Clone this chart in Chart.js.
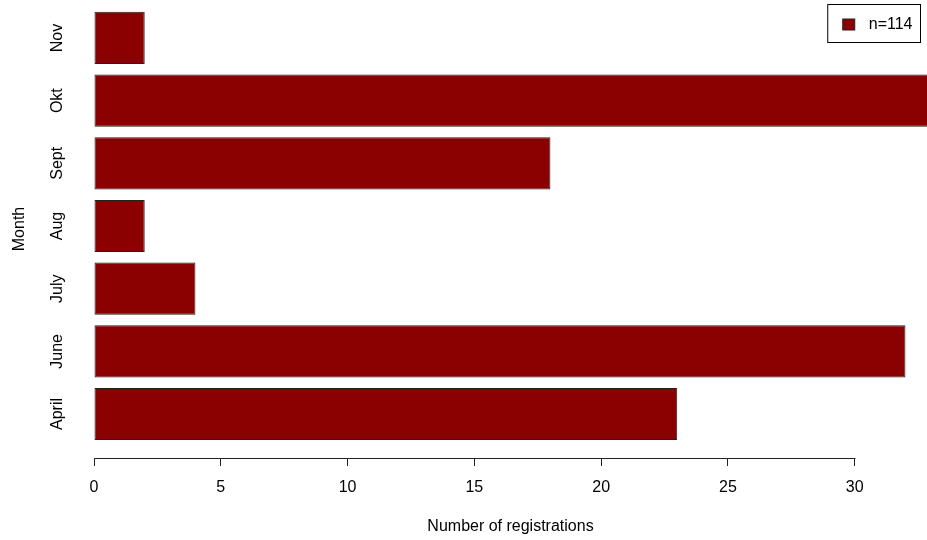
<!DOCTYPE html>
<html><head><meta charset="utf-8">
<script src="https://cdn.jsdelivr.net/npm/chart.js@4.4.1/dist/chart.umd.min.js"></script>
<style>html,body{margin:0;padding:0;background:#fff;}</style>
</head><body>
<canvas id="c" width="927" height="540"></canvas>
<script>
const months = ['April', 'June', 'July', 'Aug', 'Sept', 'Okt', 'Nov'];
const registrations = [23, 32, 4, 2, 18, 33, 2];
const xTickValues = [0, 5, 10, 15, 20, 25, 30];
const seriesLabel = 'n=114';
const xTitle = 'Number of registrations';
const yTitle = 'Month';

const barColor = '#8B0000';
const lineColor = '#222222';

Chart.defaults.font.family = "'Liberation Sans', Arial, sans-serif";
Chart.defaults.font.size = 16;
Chart.defaults.color = '#000';

const rStyle = {
  id: 'rStyle',
  afterDraw(chart) {
    const ctx = chart.ctx;
    const xs = chart.scales.x;
    ctx.save();
    // axis line spanning first to last tick (R style)
    const xa = xs.getPixelForValue(xTickValues[0]);
    const xb = xs.getPixelForValue(xTickValues[xTickValues.length - 1]);
    const y = Math.round(xs.top) + 0.5;
    ctx.strokeStyle = lineColor;
    ctx.lineWidth = 1;
    ctx.beginPath();
    ctx.moveTo(Math.round(xa) + 0.5, y);
    ctx.lineTo(Math.round(xb) + 0.5, y);
    ctx.stroke();
    // legend box (R style, inside plot, top-right)
    const ds = chart.data.datasets[0];
    ctx.font = "16px 'Liberation Sans', Arial, sans-serif";
    const tw = ctx.measureText(ds.label).width;
    const right = 920.5, top = 4.5, h = 38;
    const w = 15 + 12 + 14 + tw + 8;
    const left = right - w;
    ctx.strokeStyle = '#000';
    ctx.strokeRect(left, top, w, h);
    ctx.fillStyle = ds.backgroundColor;
    ctx.fillRect(left + 15, top + 14.5, 12, 11);
    ctx.strokeStyle = lineColor;
    ctx.strokeRect(left + 15, top + 14.5, 12, 11);
    ctx.fillStyle = '#000';
    ctx.textBaseline = 'middle';
    ctx.textAlign = 'left';
    ctx.fillText(ds.label, left + 15 + 12 + 14, top + h / 2 + 1);
    ctx.restore();
  }
};

function noMargins(axis) {
  axis.paddingTop = 0;
  axis.paddingBottom = 0;
  axis.paddingLeft = 0;
  axis.paddingRight = 0;
}

new Chart(document.getElementById('c'), {
  type: 'bar',
  data: {
    datasets: [{
      label: seriesLabel,
      data: registrations.map((v, i) => ({ x: v, y: i + 1 })),
      backgroundColor: barColor,
      borderColor: lineColor,
      borderWidth: 1,
      borderSkipped: false,
      categoryPercentage: 1,
      barPercentage: 1 / 1.2
    }]
  },
  options: {
    indexAxis: 'y',
    responsive: false,
    animation: false,
    devicePixelRatio: 1,
    layout: { padding: 0 },
    plugins: { legend: { display: false }, tooltip: { enabled: false } },
    scales: {
      y: {
        type: 'linear',
        offset: false,
        min: 0.298,
        max: 7.606,
        grid: { display: false, drawTicks: false },
        border: { display: false },
        afterBuildTicks: (axis) => { axis.ticks = months.map((m, i) => ({ value: i + 1 })); },
        afterFit: (axis) => { axis.width = 94; noMargins(axis); },
        ticks: {
          autoSkip: false,
          minRotation: 90,
          maxRotation: 90,
          crossAlign: 'center',
          padding: 19,
          color: '#000',
          callback: (value) => months[Math.round(value) - 1]
        },
        title: { display: true, text: yTitle, padding: { top: 10, bottom: 0 }, color: '#000' }
      },
      x: {
        type: 'linear',
        offset: false,
        min: 0,
        max: 32.85,
        grid: { drawOnChartArea: false, drawTicks: true, tickLength: 8, color: lineColor },
        border: { display: false },
        afterBuildTicks: (axis) => { axis.ticks = xTickValues.map(v => ({ value: v })); },
        afterFit: (axis) => { axis.height = 82; noMargins(axis); },
        ticks: { autoSkip: false, maxRotation: 0, padding: 12, color: '#000' },
        title: { display: true, text: xTitle, padding: { top: 0, bottom: 4 }, color: '#000' }
      }
    }
  },
  plugins: [rStyle]
});
</script>
</body></html>
